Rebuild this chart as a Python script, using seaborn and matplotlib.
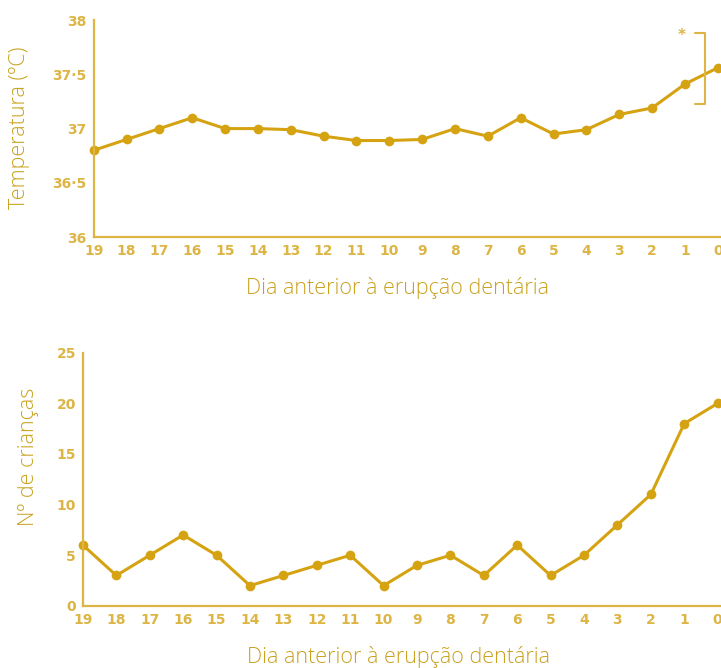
import matplotlib
matplotlib.use("Agg")
import matplotlib.pyplot as plt
import seaborn as sns
import pandas as pd

# days before tooth eruption, 19 down to 0
days = list(range(19, -1, -1))
temperature = [36.80, 36.90, 37.00, 37.10, 37.00, 37.00, 36.99, 36.93, 36.89, 36.89,
               36.90, 37.00, 36.93, 37.10, 36.95, 36.99, 37.13, 37.19, 37.41, 37.56]
n_children = [6, 3, 5, 7, 5, 2, 3, 4, 5, 2, 4, 5, 3, 6, 3, 5, 8, 11, 18, 20]

temp_ticks = [36, 36.5, 37, 37.5, 38]
temp_labels = ["36", "36·5", "37", "37·5", "38"]
count_ticks = [0, 5, 10, 15, 20, 25]

df = pd.DataFrame({"dia": days, "temp": temperature, "n": n_children})

line_col = "#D5A312"
axis_col = "#DDB545"
text_col = "#C9A21E"

sns.set_style("white")
plt.rcParams["font.family"] = ["DejaVu Sans"]

fig = plt.figure(figsize=(7.21, 6.68), dpi=100)
ax1 = fig.add_axes([0.130, 0.645, 0.870, 0.325])
ax2 = fig.add_axes([0.115, 0.093, 0.885, 0.379])

sns.lineplot(data=df, x="dia", y="temp", ax=ax1, color=line_col, lw=2.2,
             marker="o", markersize=7, markeredgewidth=0, clip_on=False)
sns.lineplot(data=df, x="dia", y="n", ax=ax2, color=line_col, lw=2.2,
             marker="o", markersize=7, markeredgewidth=0, clip_on=False)

for ax in (ax1, ax2):
    ax.set_xlim(19, -0.1)
    ax.set_xticks(days)
    ax.set_xticklabels([str(d) for d in days])
    for s in ("top", "right"):
        ax.spines[s].set_visible(False)
    for s in ("left", "bottom"):
        ax.spines[s].set_color(axis_col)
        ax.spines[s].set_linewidth(1.6)
    ax.tick_params(axis="both", direction="in", length=7, width=1.5, color=axis_col,
                   labelcolor=axis_col, labelsize=10)
    ax.tick_params(axis="x", pad=5)
    ax.tick_params(axis="y", pad=5)

ax1.set_ylim(36, 38)
ax1.set_yticks(temp_ticks)
ax1.set_yticklabels(temp_labels)
ax2.set_ylim(0, 25)
ax2.set_yticks(count_ticks)
ax2.set_yticklabels([str(t) for t in count_ticks])
for ax in (ax1, ax2):
    for lab in ax.get_xticklabels() + ax.get_yticklabels():
        lab.set_fontweight("bold")

lab_font = dict(family=["Open Sans", "DejaVu Sans"], fontweight="light",
                fontsize=15.5, color=text_col)
ax1.set_xlabel("Dia anterior à erupção dentária", **lab_font)
ax1.set_ylabel("Temperatura (ºC)", **lab_font)
ax2.set_xlabel("Dia anterior à erupção dentária", **lab_font)
ax2.set_ylabel("Nº de crianças", **lab_font)
ax1.xaxis.set_label_coords(0.485, -0.235)
ax2.xaxis.set_label_coords(0.494, -0.202)
ax1.yaxis.set_label_coords(-0.118, 0.502)
ax2.yaxis.set_label_coords(-0.086, 0.589)
for ax in (ax1, ax2):
    ax.xaxis.label.set_va("center")
    ax.yaxis.label.set_va("center")

# significance bracket on the last days
ax1.plot([0.7, 0.4, 0.4, 0.7], [37.88, 37.88, 37.23, 37.23], color=axis_col,
         lw=1.5, clip_on=False)
ax1.text(1.1, 37.86, "*", color=axis_col, fontsize=11, fontweight="bold",
         ha="center", va="center")

plt.savefig("out.png", dpi=100)
